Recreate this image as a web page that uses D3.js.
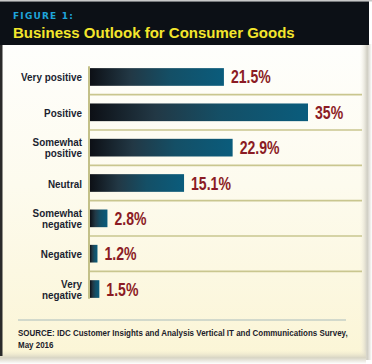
<!DOCTYPE html>
<html>
<head>
<meta charset="utf-8">
<script src="https://cdn.jsdelivr.net/npm/d3@7"></script>
<style>
  html, body { margin: 0; padding: 0; background: #ffffff; }
  svg { display: block; }
</style>
</head>
<body>
<svg id="chart" width="372" height="364"></svg>
<script>
// ---- data ----
const categories = ["Very positive", "Positive", "Somewhat\npositive", "Neutral", "Somewhat\nnegative", "Negative", "Very\nnegative"];
const values = [21.5, 35, 22.9, 15.1, 2.8, 1.2, 1.5];
const valueLabels = ["21.5%", "35%", "22.9%", "15.1%", "2.8%", "1.2%", "1.5%"];
const figureLabel = "FIGURE 1:";
const titleText = "Business Outlook for Consumer Goods";
const sourceLines = ["SOURCE: IDC Customer Insights and Analysis Vertical IT and Communications Survey,", "May 2016"];

const svg = d3.select("#chart");
const defs = svg.append("defs");
const FONT = "'Liberation Sans', Arial, sans-serif";

// body background gradient
const bg = defs.append("linearGradient").attr("id", "bodyGrad").attr("x1", 0).attr("y1", 0).attr("x2", 0).attr("y2", 1);
bg.append("stop").attr("offset", "0%").attr("stop-color", "#fefefc");
bg.append("stop").attr("offset", "45%").attr("stop-color", "#fdfbee");
bg.append("stop").attr("offset", "100%").attr("stop-color", "#fbf5d6");

// right shadow
const rs = defs.append("linearGradient").attr("id", "rShadow").attr("x1", 0).attr("y1", 0).attr("x2", 1).attr("y2", 0);
rs.append("stop").attr("offset", "0%").attr("stop-color", "#f3f0e2").attr("stop-opacity", 0);
rs.append("stop").attr("offset", "60%").attr("stop-color", "#cfcdc2");
rs.append("stop").attr("offset", "100%").attr("stop-color", "#ffffff");
// bottom shadow
const bs = defs.append("linearGradient").attr("id", "bShadow").attr("x1", 0).attr("y1", 0).attr("x2", 0).attr("y2", 1);
bs.append("stop").attr("offset", "0%").attr("stop-color", "#f3eed2").attr("stop-opacity", 0);
bs.append("stop").attr("offset", "55%").attr("stop-color", "#d8d5c4");
bs.append("stop").attr("offset", "100%").attr("stop-color", "#ffffff");

// bar gradient
const bgBar = defs.append("linearGradient").attr("id", "barGrad").attr("x1", 0).attr("y1", 0).attr("x2", 1).attr("y2", 0);
bgBar.append("stop").attr("offset", "0%").attr("stop-color", "#0d1016");
bgBar.append("stop").attr("offset", "30%").attr("stop-color", "#223845");
bgBar.append("stop").attr("offset", "60%").attr("stop-color", "#144f66");
bgBar.append("stop").attr("offset", "100%").attr("stop-color", "#0a5c7c");

// ---- frame ----
svg.append("rect").attr("x", 0).attr("y", 0).attr("width", 372).attr("height", 364).attr("fill", "#ffffff");
svg.append("rect").attr("x", 0).attr("y", 44).attr("width", 366).attr("height", 313).attr("fill", "url(#bodyGrad)");
svg.append("rect").attr("x", 360).attr("y", 44).attr("width", 12).attr("height", 316).attr("fill", "url(#rShadow)");
svg.append("rect").attr("x", 0).attr("y", 350).attr("width", 366).attr("height", 14).attr("fill", "url(#bShadow)");
svg.append("rect").attr("x", 0).attr("y", 44).attr("width", 2.5).attr("height", 312).attr("fill", "#2a2a2a");
// header
svg.append("rect").attr("x", 0).attr("y", 0).attr("width", 372).attr("height", 1.5).attr("fill", "#c8c8c8");
svg.append("rect").attr("x", 0).attr("y", 1.5).attr("width", 369).attr("height", 43.5).attr("fill", "#0c1016");

svg.append("text").attr("x", 13).attr("y", 18.5)
  .attr("font-family", "'DejaVu Sans', sans-serif").attr("font-weight", "bold")
  .attr("font-size", 9).attr("letter-spacing", 1.2).attr("fill", "#1fa4da")
  .text(figureLabel);
svg.append("text").attr("x", 13).attr("y", 37.5)
  .attr("font-family", FONT).attr("font-weight", "bold")
  .attr("font-size", 15).attr("fill", "#f4e62c")
  .text(titleText);

// helper: condensed text via horizontal scale
function condText(parent, tx, ty, sx, str) {
  return parent.append("text")
    .attr("transform", `translate(${tx},${ty}) scale(${sx},1)`)
    .attr("font-family", FONT).attr("font-weight", "bold")
    .text(str);
}

// ---- scales ----
const x = d3.scaleLinear().domain([0, 35]).range([90, 308]);
const y = d3.scaleBand().domain(categories).range([59.3, 306.7]).paddingInner(0.5).paddingOuter(0.25);
const step = y.step();

// separators
const sepCats = categories.slice(0, categories.length - 1);
svg.append("g").selectAll("line").data(sepCats).join("line")
  .attr("x1", 89).attr("x2", 362)
  .attr("y1", d => y(d) + y.bandwidth() + (step - y.bandwidth()) / 2)
  .attr("y2", d => y(d) + y.bandwidth() + (step - y.bandwidth()) / 2)
  .attr("stroke", "#c9c68f").attr("stroke-width", 1.6);

// axis line
svg.append("line").attr("x1", 89).attr("x2", 89)
  .attr("y1", y(categories[0]) - 2).attr("y2", y(categories[categories.length - 1]) + y.bandwidth() + 1)
  .attr("stroke", "#c3c088").attr("stroke-width", 2);

// bars
svg.append("g").selectAll("rect").data(values).join("rect")
  .attr("x", x(0))
  .attr("y", (d, i) => y(categories[i]))
  .attr("width", d => x(d) - x(0))
  .attr("height", y.bandwidth())
  .attr("fill", "url(#barGrad)");

// value labels
const valG = svg.append("g");
values.forEach((d, i) => {
  condText(valG, x(d) + 7, y(categories[i]) + y.bandwidth() / 2 + 6.5, 0.76, valueLabels[i])
    .attr("font-size", 18.5).attr("fill", "#8b1b24");
});

// category labels
const catG = svg.append("g");
categories.forEach(c => {
  const lines = c.split("\n");
  const cy = y(c) + y.bandwidth() / 2;
  lines.forEach((l, k) => {
    const ty = lines.length === 1 ? cy + 4.5 : cy - 1.5 + k * 11;
    condText(catG, 82, ty, 0.86, l)
      .attr("text-anchor", "end").attr("font-size", 11.5).attr("fill", "#1b1f30");
  });
});

// source
svg.append("line").attr("x1", 18).attr("x2", 346).attr("y1", 320).attr("y2", 320)
  .attr("stroke", "#a9bcbc").attr("stroke-width", 1);
condText(svg, 18, 336, 0.84, sourceLines[0]).attr("font-size", 9.5).attr("fill", "#1c1c2a");
condText(svg, 18, 347.5, 0.84, sourceLines[1]).attr("font-size", 9.5).attr("fill", "#1c1c2a");
</script>
</body>
</html>
